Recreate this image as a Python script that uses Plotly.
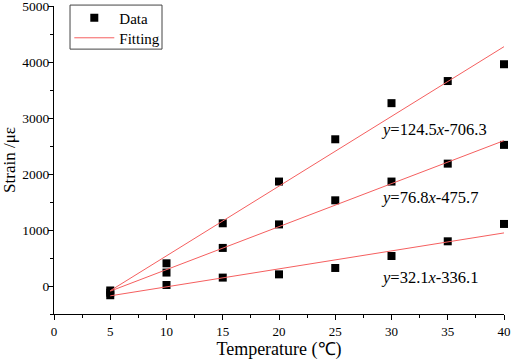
import plotly.graph_objects as go

temps = [5, 10, 15, 20, 25, 30, 35, 40]
strain_high = [-80, 405, 1120, 1865, 2620, 3265, 3660, 3960]
strain_mid = [-120, 240, 680, 1100, 1530, 1865, 2185, 2520]
strain_low = [-165, 18, 150, 208, 322, 536, 798, 1108]

fits = [(124.5, -706.3), (76.8, -475.7), (32.1, -336.1)]
fit_labels = ["<i>y</i>=124.5<i>x</i>-706.3", "<i>y</i>=76.8<i>x</i>-475.7", "<i>y</i>=32.1<i>x</i>-336.1"]
label_pos = [(28.85, 2790), (28.85, 1580), (28.85, 158)]
fit_x = [5, 40]

FONT = "Liberation Serif, Times New Roman, serif"
RED = "rgb(245,95,95)"

fig = go.Figure()
for i, ys in enumerate([strain_high, strain_mid, strain_low]):
    fig.add_trace(go.Scatter(x=temps, y=ys, mode="markers", name="Data",
                             marker=dict(symbol="square", size=8, color="black"),
                             legend="legend", showlegend=(i == 0), cliponaxis=False))
for i, (a, b) in enumerate(fits):
    fig.add_trace(go.Scatter(x=fit_x, y=[a * x + b for x in fit_x], mode="lines", name="Fitting",
                             line=dict(color=RED, width=1),
                             legend="legend2", showlegend=(i == 0)))

for txt, (lx, ly) in zip(fit_labels, label_pos):
    fig.add_annotation(x=lx, y=ly, text=txt, showarrow=False, xanchor="left", yanchor="middle",
                       font=dict(family=FONT, size=16.5, color="black"))

leg_common = dict(x=0.034, xanchor="left", yanchor="middle", borderwidth=0,
                  bgcolor="rgba(0,0,0,0)", itemwidth=40,
                  font=dict(family=FONT, size=15))

fig.update_layout(
    width=512, height=360,
    margin=dict(l=54, r=8, t=6, b=46, autoexpand=False),
    paper_bgcolor="white", plot_bgcolor="white",
    font=dict(family=FONT, color="black"),
    legend=dict(y=0.961, **leg_common),
    legend2=dict(y=0.896, **leg_common),
    showlegend=True,
    shapes=[dict(type="rect", xref="paper", yref="paper", x0=0.0356, x1=0.24, y0=0.860, y1=1.003,
                 line=dict(color="#444", width=1), fillcolor="white", layer="below")],
)
fig.update_xaxes(range=[0, 40], dtick=5, tick0=0, showgrid=False, zeroline=False,
                 showline=True, linecolor="black", linewidth=1, automargin=False,
                 ticklabeloverflow="allow",
                 ticks="outside", ticklen=5, tickcolor="black",
                 minor=dict(dtick=2.5, ticks="outside", ticklen=3, tickcolor="black"),
                 tickfont=dict(family=FONT, size=13),
                 title=dict(text="Temperature (\u2103)", font=dict(family=FONT, size=18)))
fig.update_yaxes(range=[-500, 5000], dtick=1000, tick0=0, showgrid=False, zeroline=False,
                 showline=True, linecolor="black", linewidth=1, automargin=False,
                 ticklabeloverflow="allow", ticklabelstandoff=-4,
                 ticks="outside", ticklen=5, tickcolor="black",
                 minor=dict(dtick=500, ticks="outside", ticklen=3, tickcolor="black"),
                 tickfont=dict(family=FONT, size=13.5),
                 title=dict(text="Strain /\u03bc\u03b5", font=dict(family=FONT, size=17)))

fig.write_html("out.html", config={"displayModeBar": False},
               post_script="document.body.style.margin='0';document.body.style.overflow='hidden';")
